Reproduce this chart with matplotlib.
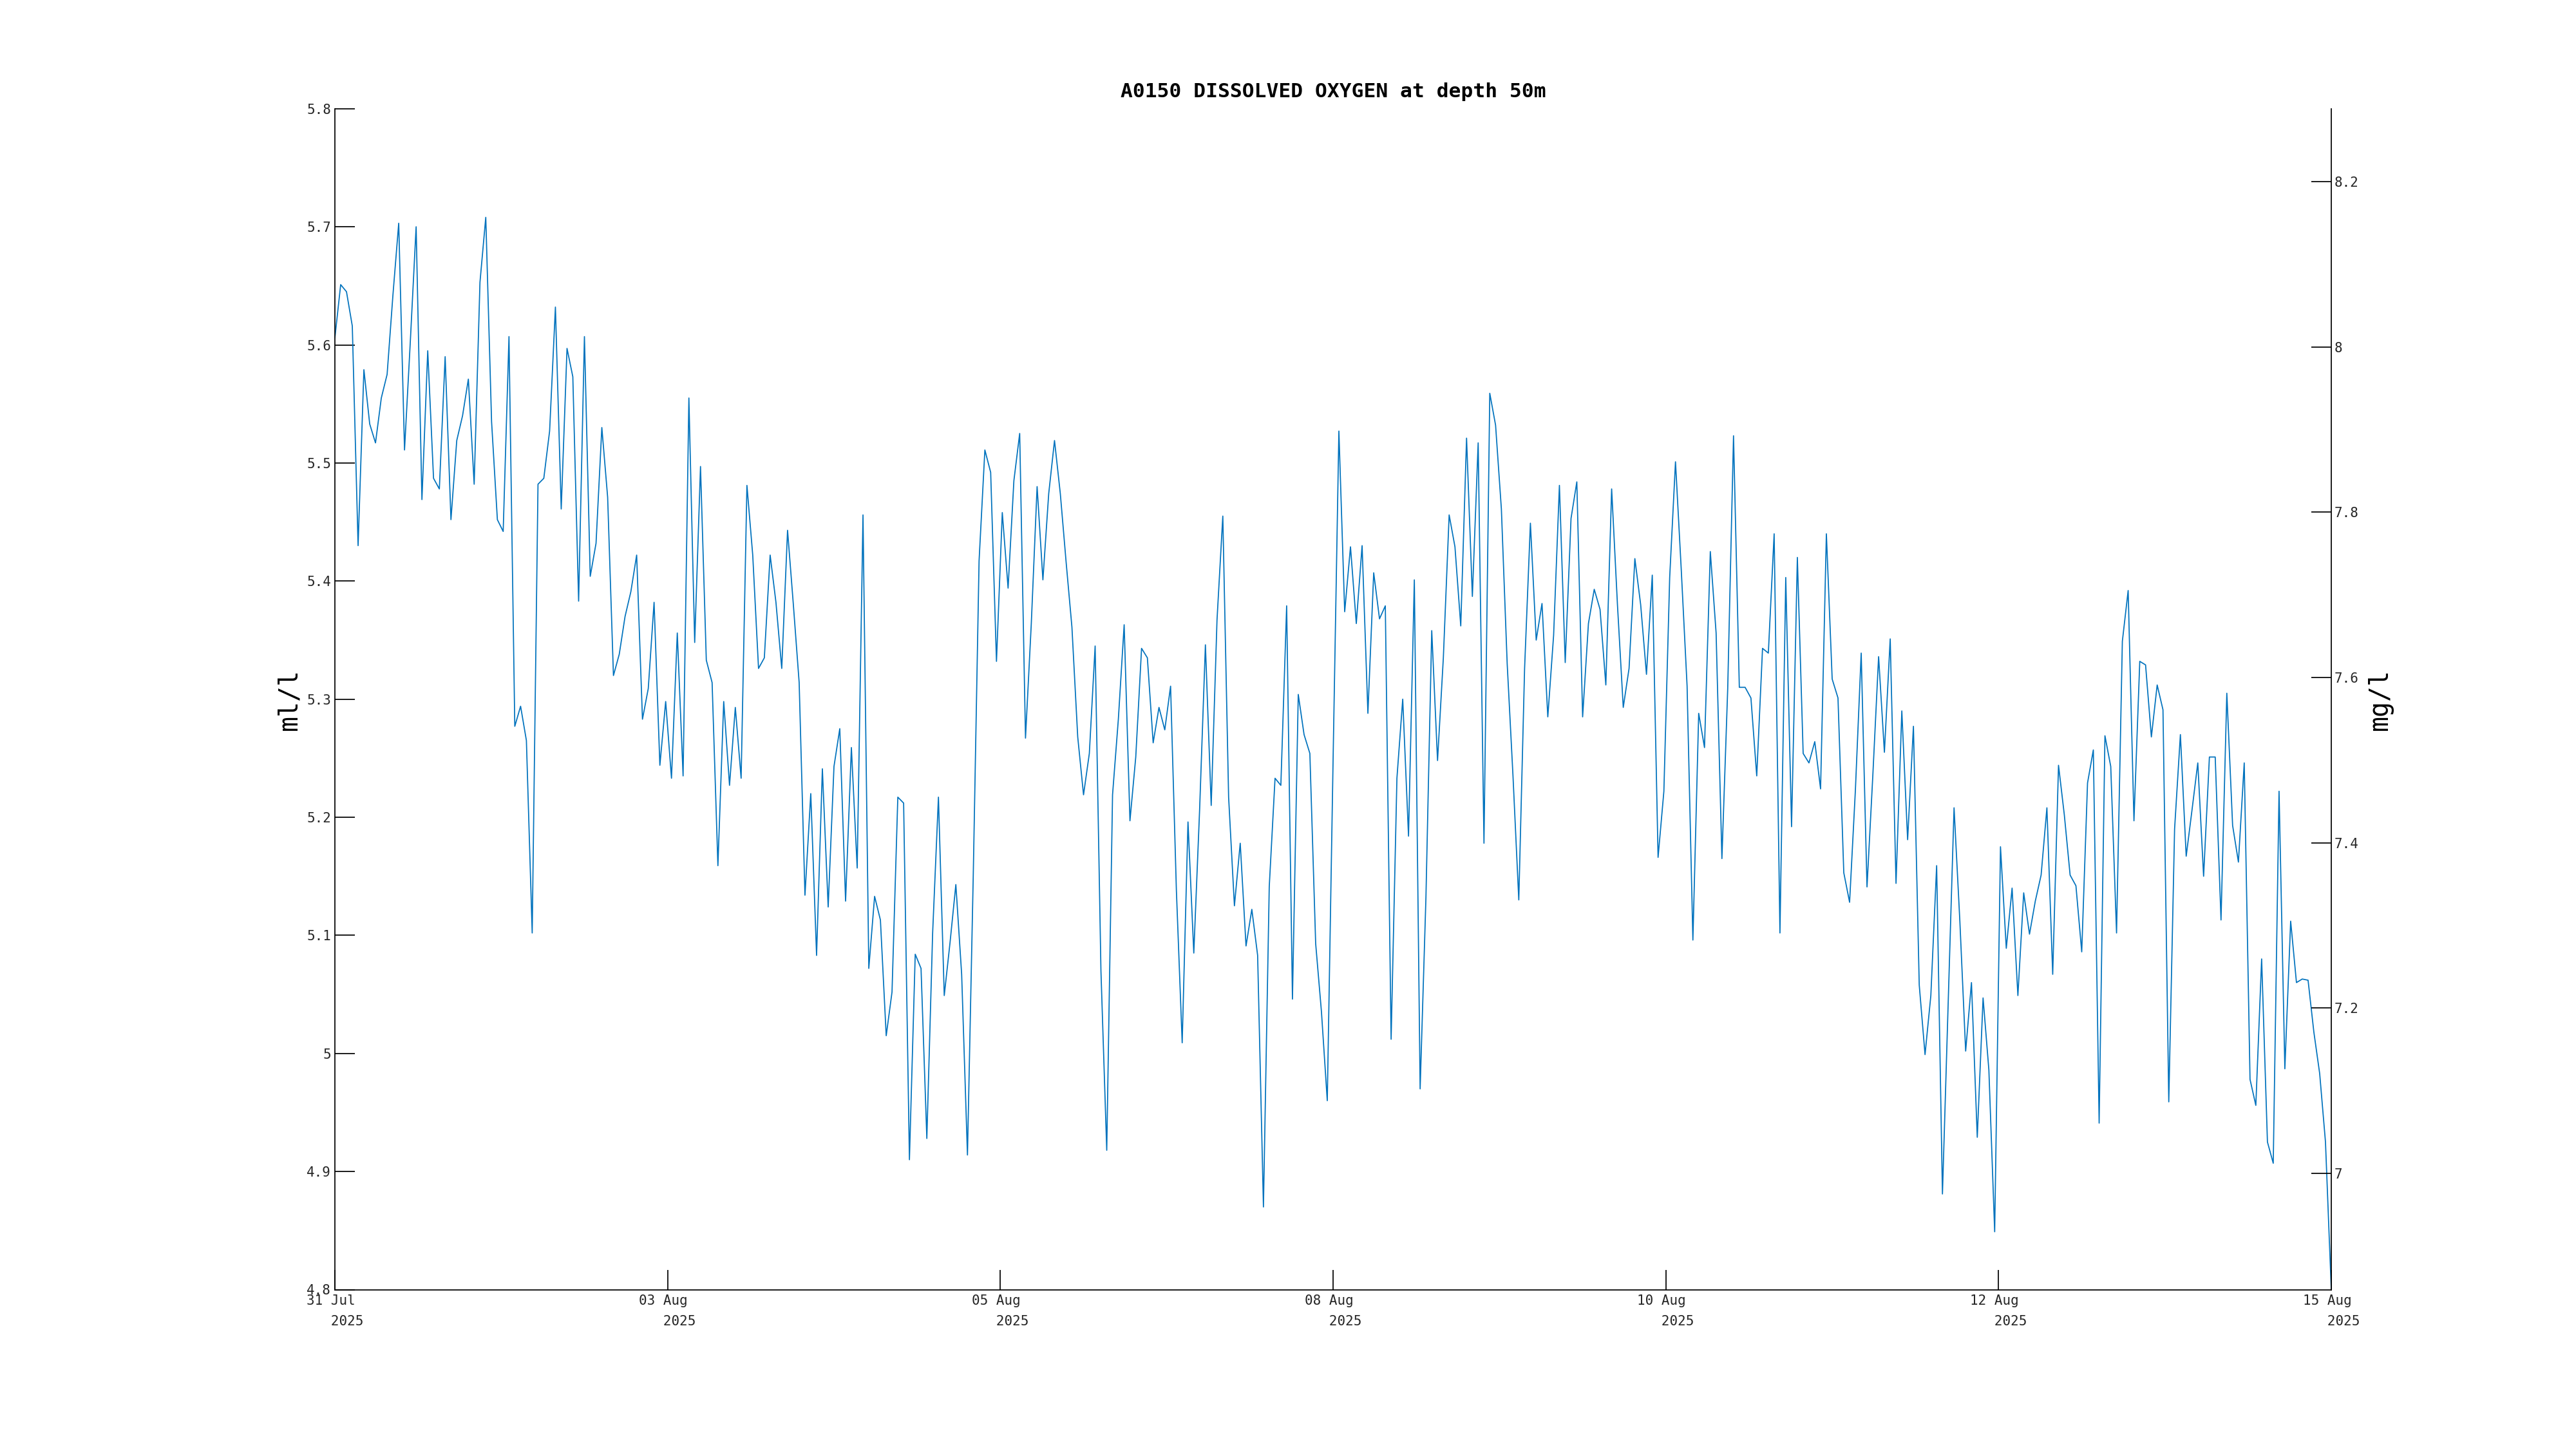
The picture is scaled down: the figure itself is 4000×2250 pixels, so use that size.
import numpy as np
from matplotlib import pyplot as plt

plt.rcParams['font.family'] = ['DejaVu Sans Mono', 'DejaVu Sans']

title = "A0150 DISSOLVED OXYGEN at depth 50m"
date_labels = ["31 Jul", "03 Aug", "05 Aug", "08 Aug", "10 Aug", "12 Aug", "15 Aug"]
year_label = "2025"

ml_ticks = [4.8, 4.9, 5.0, 5.1, 5.2, 5.3, 5.4, 5.5, 5.6, 5.7, 5.8]
ml_tick_labels = ["4.8", "4.9", "5", "5.1", "5.2", "5.3", "5.4", "5.5", "5.6", "5.7", "5.8"]
mg_ticks = [7.0, 7.2, 7.4, 7.6, 7.8, 8.0, 8.2]
mg_tick_labels = ["7", "7.2", "7.4", "7.6", "7.8", "8", "8.2"]
ML_TO_MG = 1.429

# hourly dissolved oxygen, ml/l
oxygen_ml = [
    5.606, 5.651, 5.645, 5.616, 5.430, 5.579, 5.533, 5.517, 5.555, 5.575,
    5.642, 5.703, 5.511, 5.603, 5.700, 5.469, 5.595, 5.487, 5.478, 5.590,
    5.452, 5.519, 5.540, 5.571, 5.482, 5.653, 5.708, 5.535, 5.452, 5.442,
    5.607, 5.277, 5.294, 5.265, 5.102, 5.482, 5.487, 5.527, 5.632, 5.461,
    5.597, 5.573, 5.383, 5.607,
    5.404, 5.432, 5.530, 5.471, 5.320, 5.338, 5.370, 5.391, 5.422, 5.283,
    5.309, 5.382, 5.244, 5.298, 5.233, 5.356, 5.235, 5.555, 5.348, 5.497,
    5.333, 5.314, 5.159, 5.298, 5.227, 5.293, 5.233, 5.481, 5.422, 5.326,
    5.335, 5.422, 5.382, 5.326, 5.443, 5.380, 5.314, 5.134, 5.220, 5.083,
    5.241, 5.124, 5.243,
    5.275, 5.129, 5.259, 5.157, 5.456, 5.072, 5.133, 5.113, 5.015, 5.052,
    5.217, 5.212, 4.910, 5.084, 5.072, 4.928, 5.102, 5.217, 5.049, 5.094,
    5.143, 5.067, 4.914, 5.151, 5.417, 5.511, 5.492, 5.332, 5.458, 5.394,
    5.485, 5.525, 5.267, 5.364, 5.480, 5.401, 5.474, 5.519, 5.474, 5.416,
    5.361, 5.268, 5.219,
    5.254, 5.345, 5.070, 4.918, 5.219, 5.283, 5.363, 5.197, 5.251, 5.343,
    5.335, 5.263, 5.293, 5.274, 5.311, 5.138, 5.009, 5.196, 5.085, 5.206,
    5.346, 5.210, 5.367, 5.455, 5.217, 5.125, 5.178, 5.091, 5.122, 5.083,
    4.870, 5.141, 5.233, 5.227, 5.379, 5.046, 5.304, 5.270, 5.254, 5.093,
    5.035, 4.960, 5.248, 5.527,
    5.374, 5.429, 5.364, 5.430, 5.288, 5.407, 5.368, 5.379, 5.012, 5.233,
    5.300, 5.184, 5.401, 4.970, 5.132, 5.358, 5.248, 5.335, 5.456, 5.429,
    5.362, 5.521, 5.387, 5.517, 5.178, 5.559, 5.532, 5.461, 5.330, 5.235,
    5.130, 5.326, 5.449, 5.350, 5.381, 5.285, 5.354, 5.481, 5.331, 5.453,
    5.484, 5.285, 5.364,
    5.393, 5.376, 5.312, 5.478, 5.380, 5.293, 5.326, 5.419, 5.380, 5.321,
    5.405, 5.166, 5.222, 5.403, 5.501, 5.409, 5.311, 5.096, 5.288, 5.259,
    5.425, 5.356, 5.165, 5.309, 5.523, 5.310, 5.310, 5.301, 5.235, 5.343,
    5.339, 5.440, 5.102, 5.403, 5.192, 5.420, 5.254, 5.246, 5.264, 5.224,
    5.440, 5.317, 5.301,
    5.153, 5.128, 5.223, 5.339, 5.141, 5.235, 5.336, 5.255, 5.351, 5.144,
    5.290, 5.181, 5.277, 5.058, 4.999, 5.049, 5.159, 4.881, 5.044, 5.208,
    5.112, 5.002, 5.060, 4.929, 5.047, 4.986, 4.849, 5.175, 5.089, 5.140,
    5.049, 5.136, 5.101, 5.129, 5.151, 5.208, 5.067, 5.244, 5.202, 5.151,
    5.142, 5.086, 5.229,
    5.257, 4.941, 5.269, 5.243, 5.102, 5.349, 5.392, 5.197, 5.332, 5.329,
    5.268, 5.312, 5.291, 4.959, 5.190, 5.270, 5.167, 5.206, 5.246, 5.150,
    5.251, 5.251, 5.113, 5.305, 5.193, 5.162, 5.246, 4.978, 4.956, 5.080,
    4.925, 4.907, 5.222, 4.987, 5.112, 5.060, 5.063, 5.062, 5.018, 4.983,
    4.925, 4.800,
]

LINE_COLOR = "#0072BD"
TEXT_COLOR = "#262626"

hours = np.arange(len(oxygen_ml))

fig = plt.figure(figsize=(16, 9), dpi=250)
ax = fig.add_axes([0.13, 0.11, 0.775, 0.815])
ax.plot(hours, oxygen_ml, color=LINE_COLOR, linewidth=0.5)

ax.set_xlim(hours[0], hours[-1])
ax.set_ylim(ml_ticks[0], ml_ticks[-1])

xticks = np.linspace(hours[0], hours[-1], len(date_labels))
ax.set_xticks(xticks)
ax.set_xticklabels([f"{d}\n   {year_label}" for d in date_labels],
                   linespacing=1.75, multialignment="left")
ax.set_yticks(ml_ticks)
ax.set_yticklabels(ml_tick_labels)

ax.tick_params(axis="both", direction="in", length=8.9, width=0.5,
               labelsize=6.0, labelcolor=TEXT_COLOR, color="black")
ax.tick_params(axis="x", pad=2.3)
ax.tick_params(axis="y", pad=1.7)

for side in ["top", "right"]:
    ax.spines[side].set_visible(False)
for side in ["left", "bottom"]:
    ax.spines[side].set_linewidth(0.5)

ax.set_ylabel("ml/l", fontsize=11.5, labelpad=2, color="black")
ax.set_title(title, fontsize=9, fontweight="bold", pad=5.2)

# second y axis in mg/l
ax2 = ax.twinx()
ax2.set_ylim(ml_ticks[0] * ML_TO_MG, ml_ticks[-1] * ML_TO_MG)
ax2.set_yticks(mg_ticks)
ax2.set_yticklabels(mg_tick_labels)
ax2.tick_params(axis="y", direction="in", length=8.9, width=0.5,
                labelsize=6.0, labelcolor=TEXT_COLOR, pad=1.2)
for side in ["top", "left", "bottom"]:
    ax2.spines[side].set_visible(False)
ax2.spines["right"].set_linewidth(0.5)
ax2.set_ylabel("mg/l", fontsize=11.5, labelpad=4, rotation=90)

fig.savefig("out.png", dpi=250)
